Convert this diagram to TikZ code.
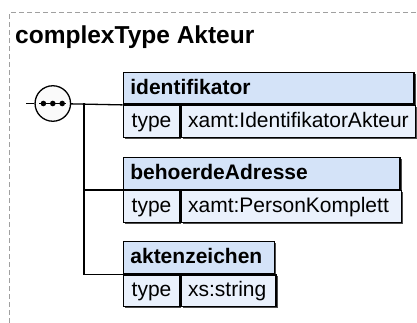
\documentclass[tikz,border=0pt]{standalone}
\usepackage{fontspec}
\setmainfont{Liberation Sans}
\usetikzlibrary{shapes,arrows,shadows}

\definecolor{headblue}{RGB}{212,227,248}
\definecolor{rowblue}{RGB}{234,241,252}
\definecolor{framegray}{RGB}{160,160,160}

\tikzset{
  elhead/.style={draw, line width=1.4pt, fill=headblue, anchor=north west, inner xsep=7pt, inner ysep=0pt,
    minimum height=31.8pt, text height=16pt, text depth=4pt, align=left,
    font=\fontsize{21}{24}\selectfont\bfseries,
    drop shadow={shadow xshift=1.5pt, shadow yshift=-1.5pt, opacity=0.7, fill=black}},
  eltype/.style={elhead, fill=rowblue, font=\fontsize{21}{24}\selectfont},
  seqnode/.style={draw, circle, line width=1.3pt, fill=black!2, minimum size=35.5pt, inner sep=0pt},
  conn/.style={line width=1.3pt}
}

\begin{document}
\begin{tikzpicture}[x=1pt, y=-1pt]
    \useasboundingbox (0,0) rectangle (417,323);
    % Frame and title
    \draw[framegray, line width=1pt, dash pattern=on 5pt off 3pt] (9,323) -- (9,13) -- (417,13);
    \node[anchor=base west, inner sep=0pt, font=\fontsize{24.5}{28}\selectfont\bfseries] (title) at (15,43.3) {complexType Akteur};

    % Sequence symbol
    \coordinate (in) at (26,103.5);
    \node[seqnode] (seq) at (52.8,103.5) {};
    \draw[conn] (seq.center) ++(-13.5,0) -- ++(27,0);
    \foreach \dx in {-9.4,0,9.4}
        \fill (seq.center) ++(\dx,0) circle (2.8pt);
    \coordinate (fork) at (84,103.5);

    % Element identifikator
    \node[elhead, text width=276.6pt] (identifikator) at (122.7,71.7) {identifikator};
    \node[eltype, minimum width=56.3pt] (identifikatorT) at (identifikator.south west) {type};
    \node[eltype, text width=220.3pt] (identifikatorV) at (identifikatorT.north east) {xamt:IdentifikatorAkteur};

    % Element behoerdeAdresse
    \node[elhead, text width=262.6pt] (behoerdeAdresse) at (122.7,156.7) {behoerdeAdresse};
    \node[eltype, minimum width=56.3pt] (behoerdeAdresseT) at (behoerdeAdresse.south west) {type};
    \node[eltype, text width=206.3pt] (behoerdeAdresseV) at (behoerdeAdresseT.north east) {xamt:PersonKomplett};

    % Element aktenzeichen
    \node[elhead, text width=137.3pt] (aktenzeichen) at (122.7,241) {aktenzeichen};
    \node[eltype, minimum width=56.3pt] (aktenzeichenT) at (aktenzeichen.south west) {type};
    \node[eltype, text width=81pt] (aktenzeichenV) at (aktenzeichenT.north east) {xs:string};

    % Connectors
    \draw[conn] (in) -- (seq);
    \draw[conn] (seq) -- (identifikator.south west);
    \draw[conn] (fork) |- (behoerdeAdresse.south west);
    \draw[conn] (fork) |- (aktenzeichen.south west);
\end{tikzpicture}
\end{document}
